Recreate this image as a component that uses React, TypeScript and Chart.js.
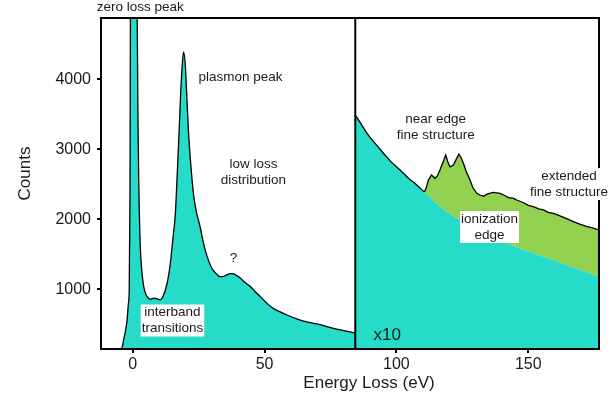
import React, { useEffect, useRef } from "react";
import { Chart, registerables } from "chart.js";

Chart.register(...registerables);

// ---- data ----
// low-loss spectrum (counts as displayed)
const lowLossEnergy = [
  -12, -6, -4.2, -3.4, -2.6, -2.1, -1.6, -1.3, -1.0, -0.8, 0.4, 1.6, 2.0, 2.3, 2.9, 3.5, 4.2, 5.0,
  6.1, 7.0, 8.0, 9.0, 10.5, 11.5, 12.4, 13.4, 14.3, 15.2, 16.2, 16.8, 17.5, 18.1, 18.8, 19.3, 20.0,
  20.6, 21.2, 22.0, 23.1, 24.2, 25.6, 26.5, 27.5, 28.7, 30.0, 31.5, 33.2, 34.5, 35.7, 37.0, 38.3,
  39.5, 40.8, 42.5, 44.6, 46.5, 48.4, 50.5, 52.8, 55.5, 58.5, 63.5, 67.3, 69.8, 73.0, 76.1, 80.0, 84.4,
];
const lowLossCounts = [
  150, 150, 155, 280, 430, 565, 800, 990, 2400, 5500, 8000, 5500, 3500, 2560, 1610, 1250, 1040, 930,
  870, 860, 875, 865, 850, 900, 990, 1150, 1375, 1700, 2090, 2560, 3150, 3710, 4200, 4390, 4180,
  3700, 3230, 2800, 2350, 2100, 1890, 1720, 1560, 1420, 1300, 1230, 1180, 1185, 1205, 1225, 1220,
  1195, 1160, 1100, 1040, 965, 895, 815, 740, 685, 633, 561, 523, 505, 475, 443, 410, 375,
];
// core-loss region, shown x10: background under the edge
const backgroundEnergy = [84.4, 86.5, 88.8, 92.0, 95.1, 98.0, 101.4, 104.5, 107.7, 110.6, 117.0, 124.1, 132.0, 141.8, 150.0, 159.5, 168.0, 176.8];
const backgroundCounts = [3490, 3370, 3230, 3080, 2943, 2820, 2704, 2590, 2490, 2390, 2170, 1990, 1820, 1657, 1540, 1420, 1300, 1175];
// core-loss region, shown x10: ionization edge with fine structure
const edgeEnergy = [
  110.6, 111.3, 112.1, 113.3, 114.6, 115.5, 116.5, 117.5, 118.7, 119.5, 120.3, 121.6, 122.7, 123.7,
  124.5, 125.4, 126.5, 127.9, 129.0, 130.5, 131.7, 133.0, 134.3, 136.7, 139.3, 141.0, 142.5, 144.4,
  145.6, 148.0, 150.0, 151.9, 154.0, 156.0, 157.5, 159.5, 162.0, 164.5, 167.1, 169.5, 172.0, 174.0, 176.8,
];
const edgeCounts = [
  2390, 2450, 2561, 2633, 2586, 2620, 2704, 2800, 2919, 2820, 2751, 2776, 2860, 2933,
  2880, 2800, 2680, 2561, 2450, 2371, 2347, 2330, 2360, 2385, 2371, 2340, 2310, 2300,
  2276, 2240, 2200, 2180, 2150, 2130, 2100, 2086, 2050, 2010, 1966, 1930, 1900, 1880, 1850,
];
const xTicks = [0, 50, 100, 150];
const yTicks = [1000, 2000, 3000, 4000];
const xMin = -12;
const xMax = 176.8;
const yMin = 147;
const yMax = 4876;
const splitEnergy = 84.4;
const edgeOnset = 110.6;

const xTitle = "Energy Loss (eV)";
const yTitle = "Counts";

type Note = { lines: string[]; x: number; y: number; box?: boolean; size?: number; align?: CanvasTextAlign };
const notes: Note[] = [
  { lines: ["zero loss peak"], x: 2.9, y: 5033 },
  { lines: ["plasmon peak"], x: 40.9, y: 4033 },
  { lines: ["low loss", "distribution"], x: 45.8, y: 2669 },
  { lines: ["?"], x: 38.2, y: 1447 },
  { lines: ["interband", "transitions"], x: 15.1, y: 554, box: true },
  { lines: ["near edge", "fine structure"], x: 114.9, y: 3311 },
  { lines: ["extended", "fine structure"], x: 165.4, y: 2504, box: true },
  { lines: ["ionization", "edge"], x: 135.3, y: 1890, box: true },
  { lines: ["x10"], x: 91.3, y: 337, size: 17, align: "left" },
];

const CYAN = "#27dbc9";
const GREEN = "#92d050";
const TEXT = "#1a1a1a";
const FONT = '"Liberation Sans", Arial, sans-serif';

const pts = (xs: number[], ys: number[]) => xs.map((x, i) => ({ x, y: ys[i] }));
const bgPoints = pts(backgroundEnergy, backgroundCounts);

const framePlugin = {
  id: "frameAndNotes",
  afterDatasetsDraw(chart: any) {
    const { ctx, chartArea: a, scales } = chart;
    ctx.save();
    ctx.strokeStyle = "#000";
    ctx.lineWidth = 2;
    ctx.strokeRect(a.left, a.top, a.right - a.left, a.bottom - a.top);
    for (const n of notes) {
      const size = n.size ?? 13.5;
      ctx.font = `${size}px ${FONT}`;
      const lh = 16;
      const cx = scales.x.getPixelForValue(n.x);
      const cy = scales.y.getPixelForValue(n.y);
      const h = n.lines.length * lh;
      const top = cy - h / 2;
      if (n.box) {
        const w = Math.max(...n.lines.map((l) => ctx.measureText(l).width)) + 2;
        ctx.fillStyle = "#fff";
        ctx.fillRect(cx - w / 2, top, w, h);
      }
      ctx.fillStyle = TEXT;
      ctx.textAlign = n.align ?? "center";
      ctx.textBaseline = "middle";
      n.lines.forEach((l, i) => ctx.fillText(l, cx, top + lh * (i + 0.5)));
    }
    // axis titles
    ctx.font = `17px ${FONT}`;
    ctx.fillStyle = TEXT;
    ctx.textAlign = "center";
    ctx.textBaseline = "middle";
    ctx.fillText(xTitle, (a.left + a.right) / 2 + 19, a.bottom + 34);
    ctx.translate(25, (a.top + a.bottom) / 2 - 10);
    ctx.rotate(-Math.PI / 2);
    ctx.fillText(yTitle, 0, 0);
    ctx.restore();
  },
};

export default function App() {
  const ref = useRef<HTMLCanvasElement | null>(null);
  useEffect(() => {
    if (!ref.current) return;
    const chart = new Chart(ref.current, {
      type: "line",
      data: {
        datasets: [
          {
            data: [
              { x: splitEnergy, y: yMin },
              { x: splitEnergy, y: yMax },
            ],
            borderColor: "#000",
            borderWidth: 2,
            pointRadius: 0,
            fill: false,
          },
          {
            // outline of the background before the edge onset
            data: bgPoints.filter((p) => p.x <= edgeOnset),
            borderColor: "#000",
            borderWidth: 1.3,
            fill: false,
            pointRadius: 0,
            cubicInterpolationMode: "monotone",
          },
          {
            // background fill (x10)
            data: bgPoints,
            borderWidth: 0,
            borderColor: "rgba(0,0,0,0)",
            backgroundColor: CYAN,
            fill: "start",
            pointRadius: 0,
            cubicInterpolationMode: "monotone",
          },
          {
            data: pts(edgeEnergy, edgeCounts),
            borderColor: "#000",
            borderWidth: 1.3,
            backgroundColor: GREEN,
            fill: { target: 2, above: GREEN, below: GREEN },
            pointRadius: 0,
            tension: 0,
          },
          {
            data: pts(lowLossEnergy, lowLossCounts),
            borderColor: "#000",
            borderWidth: 1.3,
            backgroundColor: CYAN,
            fill: "start",
            pointRadius: 0,
            cubicInterpolationMode: "monotone",
          },
        ],
      } as any,
      options: {
        animation: false,
        responsive: false,
        layout: { padding: { left: 0, right: 14, top: 18, bottom: 0 } },
        plugins: { legend: { display: false }, tooltip: { enabled: false } },
        scales: {
          x: {
            type: "linear",
            min: xMin,
            max: xMax,
            afterBuildTicks: (s: any) => {
              s.ticks = xTicks.map((v) => ({ value: v }));
            },
            afterFit: (s: any) => {
              s.height = 47;
            },
            ticks: {
              color: TEXT,
              font: { size: 16, family: FONT },
              padding: 2,
              maxRotation: 0,
              callback: (v: any) => String(v),
            },
            grid: { drawOnChartArea: false, drawTicks: true, tickLength: 4, color: "#000", lineWidth: 2 },
            border: { display: true, color: "#000", width: 2 },
          },
          y: {
            type: "linear",
            min: yMin,
            max: yMax,
            afterBuildTicks: (s: any) => {
              s.ticks = yTicks.map((v) => ({ value: v }));
            },
            afterFit: (s: any) => {
              s.width = 101;
            },
            ticks: {
              color: TEXT,
              font: { size: 16, family: FONT },
              padding: 6,
              callback: (v: any) => String(v),
            },
            grid: { drawOnChartArea: false, drawTicks: true, tickLength: 4, color: "#000", lineWidth: 2 },
            border: { display: true, color: "#000", width: 2 },
          },
        },
      } as any,
      plugins: [framePlugin],
    });
    return () => chart.destroy();
  }, []);
  return (
    <div style={{ position: "fixed", left: 0, top: 0, width: 613, height: 396, background: "#fff" }}>
      <canvas ref={ref} width={613} height={396} />
    </div>
  );
}
